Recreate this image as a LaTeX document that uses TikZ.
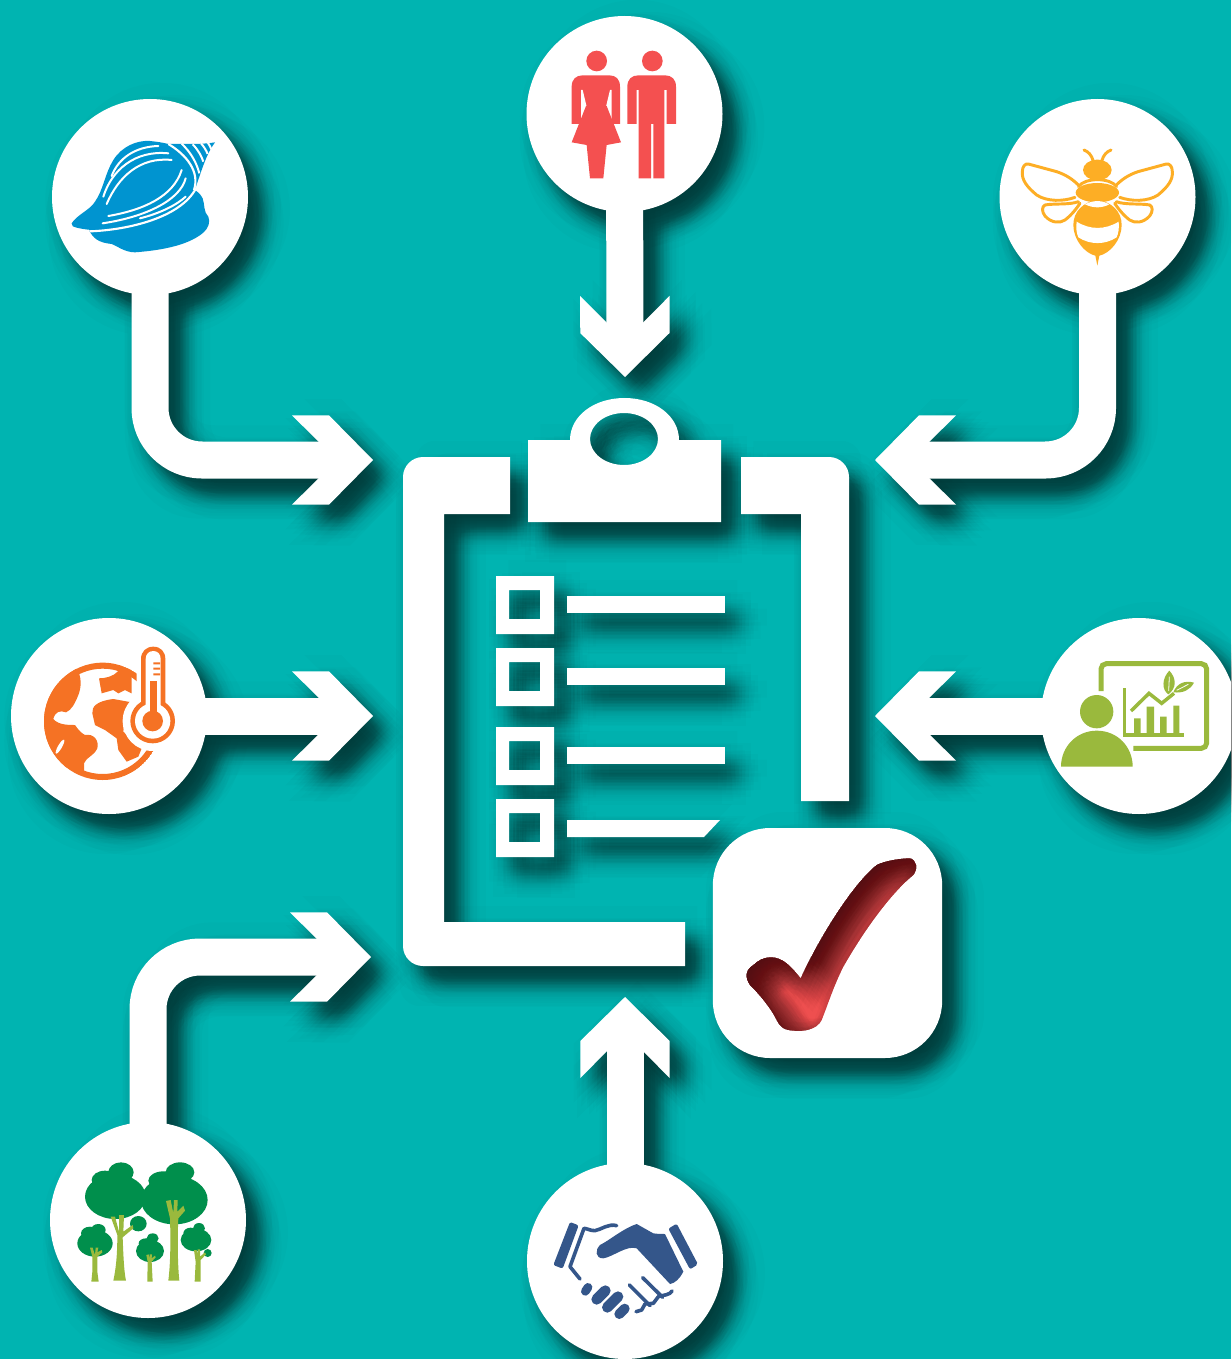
\documentclass[tikz,border=0pt]{standalone}
\usetikzlibrary{arrows.meta}
\definecolor{bgteal}{HTML}{00B4B1}
\definecolor{shellblue}{HTML}{0094D0}
\definecolor{peoplered}{HTML}{F45050}
\definecolor{beeamber}{HTML}{FDAE25}
\definecolor{globeorange}{HTML}{F57224}
\definecolor{leafgreen}{HTML}{9AB93D}
\definecolor{treegreen}{HTML}{008F4C}
\definecolor{handblue}{HTML}{34568A}
\definecolor{checkred}{HTML}{EE4F4F}
\definecolor{checkdark}{HTML}{3A0E12}
\colorlet{layercol}{white}
\pgfdeclarearrow{
  name=Chev,
  cache=false,
  setup code={
    \pgfarrowssettipend{0pt}
    \pgfarrowssetbackend{-60.75pt}
    \pgfarrowssetvisualbackend{-24pt}
    \pgfarrowssetlineend{-24pt}
    \pgfarrowshullpoint{0pt}{0pt}
    \pgfarrowshullpoint{-33pt}{33.5pt}
    \pgfarrowshullpoint{-60.75pt}{33.5pt}
    \pgfarrowshullpoint{-60.75pt}{-33.5pt}
    \pgfarrowshullpoint{-33pt}{-33.5pt}
  },
  drawing code={
    \pgfpathmoveto{\pgfqpoint{0pt}{0pt}}
    \pgfpathlineto{\pgfpoint{-33pt}{33.5pt}}
    \pgfpathlineto{\pgfpoint{-60.75pt}{33.5pt}}
    \pgfpathlineto{\pgfpoint{-27pt}{0pt}}
    \pgfpathlineto{\pgfpoint{-60.75pt}{-33.5pt}}
    \pgfpathlineto{\pgfpoint{-33pt}{-33.5pt}}
    \pgfpathclose
    \pgfusepathqfill
  }
}
\tikzset{
  disc/.style={circle,fill=layercol,inner sep=0pt,minimum size=147pt},
  conn/.style={draw=layercol,line width=27.75pt,-Chev,rounded corners=39pt},
  okbox/.style={rectangle,fill=layercol,inner sep=0pt,minimum width=172pt,minimum height=172.5pt,rounded corners=43pt},
  zA/.style={shift={(40,90)},scale=0.33333},
  zB/.style={shift={(520,10)},scale=0.33333},
  zC/.style={shift={(990,90)},scale=0.33333},
  zD/.style={shift={(10,615)},scale=0.33333},
  zE/.style={shift={(1030,615)},scale=0.33333},
  zF/.style={shift={(40,1115)},scale=0.33333},
  zG/.style={shift={(520,1160)},scale=0.33333},
  zH/.style={shift={(700,810)},scale=0.33333},
  shellline/.style={draw=white,line width=1.5pt,line cap=round},
  beeline/.style={draw=beeamber,line width=2.2pt,line cap=round,line join=round},
  handline/.style={draw=handblue,line width=2.7pt,line cap=round,line join=round},
  finger/.style={draw=handblue,line width=8pt,line cap=round},
}
\newcommand{\rowbox}[2]{%
  \fill[layercol,even odd rule] (496,#1) rectangle (554,#1+58) (509,#1+14) rectangle (540,#1+43);
  \fill[layercol] (567,#2) rectangle (725,#2+17);
}
\newcommand{\whitelayer}{%
  \node (shell) [disc] at (150,197) {};
  \node (people) [disc] at (624.5,114) {};
  \node (bee) [disc] at (1097.5,197) {};
  \node (globe) [disc] at (109,716) {};
  \node (pres) [disc] at (1139,716) {};
  \node (trees) [disc] at (148,1220) {};
  \node (hands) [disc] at (625,1261) {};
  \coordinate (tipA) at (373,460);
  \coordinate (tipB) at (625,377);
  \coordinate (tipC) at (875,460);
  \coordinate (tipD) at (373,716);
  \coordinate (tipE) at (875,716);
  \coordinate (tipF) at (371,957);
  \coordinate (tipG) at (625,997);
  \draw[conn] (shell.center) |- (tipA);
  \draw[conn] (people.center) -- (tipB);
  \draw[conn] (bee.center) |- (tipC);
  \draw[conn] (globe.center) -- (tipD);
  \draw[conn] (pres.center) -- (tipE);
  \draw[conn] (trees.center) |- (tipF);
  \draw[conn] (hands.center) -- (tipG);
  % clipboard frame
  \fill[layercol] (510,457) -- (423,457) .. controls (412,457) and (403,466) .. (403,477)
     -- (403,946) .. controls (403,957) and (412,966) .. (423,966)
     -- (685,966) -- (685,922) -- (444,922) -- (444,514) -- (510,514) -- cycle;
  \fill[layercol] (741,457) -- (829,457) .. controls (840,457) and (849,466) .. (849,477)
     -- (849,801) -- (801,801) -- (801,514) -- (741,514) -- cycle;
  % clip
  \fill[layercol,even odd rule] (528,440) -- (570,440) .. controls (570,416) and (594,398) .. (624.5,398)
     .. controls (655,398) and (679,416) .. (679,440) -- (721,440) -- (721,522) -- (528,522) -- cycle
     (624,439) ellipse [x radius=34,y radius=26];
  % list
  \rowbox{576}{596}
  \rowbox{648}{668}
  \rowbox{727}{747}
  \fill[layercol,even odd rule] (496,799) rectangle (554,857) (509,813) rectangle (540,842);
  \fill[layercol] (567,820) -- (720,820) -- (704,837) -- (567,837) -- cycle;
  \node (okay) [okbox] at (827.5,943) {};
}
\newcommand{\checkpath}{(530,165) .. controls (560,150) and (610,145) .. (630,145)
  .. controls (650,150) and (655,175) .. (640,195)
  .. controls (590,235) and (510,330) .. (430,470)
  .. controls (400,530) and (385,580) .. (365,630)
  .. controls (350,660) and (310,665) .. (280,662)
  .. controls (250,660) and (240,650) .. (230,630)
  .. controls (210,590) and (175,550) .. (150,525)
  .. controls (135,505) and (135,480) .. (160,465)
  .. controls (190,435) and (230,435) .. (260,460)
  .. controls (275,472) and (290,490) .. (302,505)
  .. controls (350,400) and (450,230) .. (530,165) -- cycle}
\begin{document}
\begin{tikzpicture}[x=0.75pt,y=-0.75pt]
\useasboundingbox (0,0) rectangle (1231,1359);
\fill[bgteal] (0,0) rectangle (1231,1359);
\clip (0,0) rectangle (1231,1359);
% soft drop shadow: many faint offset copies of the layer, in black, gaussian spread
\colorlet{layercol}{black}
\foreach \i in {1,...,70}{
  \pgfmathsetmacro\sr{15*sqrt(-ln(1-(\i-0.5)/70))}
  \pgfmathsetmacro\sa{\i*137.508}
  \begin{scope}[shift={(15,17)},shift={(\sa:\sr)},transparency group,opacity=0.0125]
    \whitelayer
  \end{scope}
}
\colorlet{layercol}{white}
\whitelayer

% check mark with inner shadow
\begin{scope}[zH]
  \clip \checkpath;
  \fill[checkred] (100,100) rectangle (700,700);
  \foreach \i in {1,...,80}{
    \pgfmathsetmacro\sr{72*sqrt(\i/80)}
    \pgfmathsetmacro\sa{\i*137.508}
    \begin{scope}[shift={(42,32)},shift={(\sa:\sr)}]
      \fill[checkdark,opacity=0.02,even odd rule] (-500,-500) rectangle (1300,1300) \checkpath;
    \end{scope}
  }
\end{scope}

% shell
\begin{scope}[zA]
  \fill[shellblue] (148,422) .. controls (160,445) and (175,458) .. (215,462)
    .. controls (235,470) and (255,487) .. (285,487)
    .. controls (350,482) and (440,470) .. (490,428)
    .. controls (505,415) and (512,395) .. (505,380)
    .. controls (490,365) and (495,345) .. (488,325)
    .. controls (480,310) and (472,305) .. (465,300) -- (350,390) -- cycle;
  \fill[shellblue] (95,400) .. controls (110,375) and (150,360) .. (165,335)
    .. controls (190,300) and (195,250) .. (220,210)
    .. controls (245,170) and (290,150) .. (330,153)
    .. controls (350,155) and (370,158) .. (385,162)
    .. controls (430,160) and (480,165) .. (525,157)
    .. controls (500,190) and (485,240) .. (468,290)
    .. controls (445,350) and (380,395) .. (300,410)
    .. controls (230,425) and (160,425) .. (110,413)
    .. controls (100,410) and (93,408) .. (95,400) -- cycle;
  \draw[white,line width=1.6pt] (150,424) .. controls (260,420) and (420,385) .. (468,295);
  \draw[white,line width=1.6pt] (385,162) .. controls (440,195) and (480,245) .. (462,300);
  \draw[shellline] (215,258) .. controls (235,205) and (285,170) .. (355,168);
  \draw[shellline] (190,320) .. controls (215,240) and (285,180) .. (385,190);
  \draw[shellline] (200,342) .. controls (235,260) and (300,200) .. (395,210);
  \draw[shellline] (205,378) .. controls (310,360) and (400,320) .. (425,240);
  \draw[shellline] (188,400) .. controls (320,380) and (420,330) .. (437,265);
  \draw[shellline] (300,385) .. controls (360,370) and (410,345) .. (437,320);
  \draw[white,line width=1.5pt] (425,161) .. controls (455,190) and (470,220) .. (478,250);
  \draw[white,line width=1.5pt] (458,163) .. controls (475,180) and (485,200) .. (490,215);
  \draw[white,line width=1.5pt] (483,160) .. controls (492,170) and (498,180) .. (503,192);
  \draw[white,line width=1.5pt] (503,157) .. controls (508,165) and (512,172) .. (514,178);
\end{scope}

% people
\begin{scope}[zB]
  \fill[peoplered] (230,153) circle [radius=31];
  \fill[peoplered] (155,342) -- (155,230) .. controls (155,208) and (168,196) .. (188,196)
    -- (268,196) .. controls (288,196) and (300,208) .. (300,230) -- (300,342) -- cycle;
  \fill[white] (183,240) -- (188,240) -- (200,290) -- (183,335) -- (183,345) -- (275,345) -- (275,335) -- (258,290) -- (270,240) -- (275,240) -- (275,342) -- (183,342) -- cycle;
  \fill[peoplered] (198,288) -- (260,288) -- (303,397) -- (260,405) -- (250,505) -- (210,505) -- (200,405) -- (155,397) -- cycle;
  \fill[peoplered] (397,153) circle [radius=31];
  \fill[peoplered] (322,342) -- (322,230) .. controls (322,208) and (335,196) .. (355,196)
    -- (435,196) .. controls (455,196) and (468,208) .. (468,230) -- (468,342) -- (440,342)
    -- (440,240) -- (433,240) -- (433,505) -- (400,505) -- (400,342) -- (393,342)
    -- (393,505) -- (356,505) -- (356,240) -- (350,240) -- (350,342) -- cycle;
\end{scope}

% bee
\begin{scope}[zC]
  \fill[beeamber] (322,240) ellipse [x radius=43,y radius=31];
  \draw[beeline] (310,214) .. controls (305,195) and (295,185) .. (282,180);
  \draw[beeline] (335,214) .. controls (340,195) and (350,185) .. (363,180);
  \draw[beeline] (265,290) .. controls (285,262) and (360,262) .. (380,290);
  \fill[beeamber] (322,308) ellipse [x radius=65,y radius=29];
  \fill[beeamber] (322,330) .. controls (365,335) and (395,365) .. (395,405)
    .. controls (395,450) and (360,490) .. (328,497) -- (322,527) -- (316,497)
    .. controls (285,490) and (250,450) .. (250,405)
    .. controls (250,365) and (280,335) .. (322,330) -- cycle;
  \fill[white] (285,343) .. controls (310,330) and (335,330) .. (358,343)
    .. controls (335,355) and (310,355) .. (285,343) -- cycle;
  \fill[white] (260,395) .. controls (300,420) and (345,420) .. (386,395)
    .. controls (388,415) and (385,430) .. (380,442)
    .. controls (345,465) and (300,465) .. (265,442)
    .. controls (260,430) and (257,415) .. (260,395) -- cycle;
  \foreach \mir/\off in {1/0,-1/644}{
  \begin{scope}[shift={(\off,0)},xscale=\mir]
    \draw[beeline] (115,222) -- (200,245) .. controls (230,255) and (250,270) .. (265,285)
      (255,322) .. controls (220,335) and (170,335) .. (140,315)
      .. controls (110,290) and (95,270) .. (97,245)
      .. controls (97,230) and (105,220) .. (115,222);
    \draw[beeline] (265,335) .. controls (240,345) and (190,340) .. (165,345)
      .. controls (155,350) and (155,365) .. (165,378)
      .. controls (185,400) and (210,400) .. (225,390)
      .. controls (245,375) and (260,355) .. (270,340);
  \end{scope}}
\end{scope}

% globe and thermometer
\begin{scope}[zD]
  \begin{scope}
    \clip (278,319) circle [radius=176];
    \fill[globeorange,even odd rule] (278,319) circle [radius=176] (278,319) circle [radius=158];
    \fill[globeorange] (200,160) .. controls (215,185) and (215,215) .. (205,240)
      .. controls (195,265) and (185,285) .. (168,292)
      .. controls (150,285) and (135,290) .. (130,312)
      .. controls (145,330) and (175,330) .. (195,330)
      .. controls (205,345) and (215,355) .. (225,360)
      .. controls (250,355) and (268,375) .. (262,400)
      .. controls (250,425) and (230,425) .. (222,445)
      -- (222,475) -- (60,420) -- (60,200) -- cycle;
    \fill[white,rotate around={-30:(150,395)}] (150,395) ellipse [x radius=6,y radius=24];
    \fill[globeorange] (267,190) .. controls (285,190) and (310,185) .. (325,168)
      -- (365,170) -- (365,235) -- (345,225) -- (325,235) -- (310,225) -- (275,235) -- cycle;
    \fill[globeorange] (247,295) .. controls (245,275) and (260,258) .. (310,252)
      -- (365,262) -- (345,300) -- (340,350) -- (372,378) -- (395,400) -- (385,425)
      -- (350,440) -- (325,405) -- (320,370) -- (285,345) -- (255,330) -- cycle;
  \end{scope}
  \fill[white] (428,318) circle [radius=90];
  \fill[white] (380,130) .. controls (380,100) and (400,85) .. (430,85)
    .. controls (460,85) and (480,100) .. (480,130) -- (480,280) -- (380,280) -- cycle;
  \fill[globeorange] (428,318) circle [radius=67];
  \fill[globeorange] (393,300) -- (393,132) .. controls (393,110) and (408,95) .. (430,95)
    .. controls (452,95) and (466,110) .. (466,132) -- (466,300) -- cycle;
  \fill[white] (428,318) circle [radius=53];
  \fill[white] (407,300) -- (407,132) .. controls (407,118) and (416,108) .. (430,108)
    .. controls (444,108) and (452,118) .. (452,132) -- (452,300) -- cycle;
  \fill[globeorange] (428,318) circle [radius=31];
  \fill[globeorange] (420,310) -- (420,198) -- (440,198) -- (440,310) -- cycle;
  \fill[globeorange] (430,142) rectangle (450,148) (430,158) rectangle (450,164) (430,175) rectangle (450,181);
\end{scope}

% presentation
\begin{scope}[zE]
  \draw[leafgreen,line width=3.75pt,rounded corners=4pt] (213,228) -- (213,146) -- (530,146) -- (530,400) -- (310,400);
  \fill[leafgreen] (200,290) circle [radius=50];
  \fill[leafgreen] (93,455) .. controls (93,395) and (140,347) .. (200,347)
    .. controls (262,347) and (308,395) .. (308,455) -- cycle;
  \draw[leafgreen,line width=2.3pt] (283,220) -- (283,360) -- (462,360);
  \fill[leafgreen] (312,310) rectangle (332,358) (350,275) rectangle (372,358) (390,305) rectangle (410,358) (430,272) rectangle (448,358);
  \draw[leafgreen,line width=2.6pt] (303,288) -- (357,235) -- (395,265) -- (432,235);
  \fill[leafgreen] (418,167) .. controls (395,190) and (395,225) .. (415,238)
    .. controls (440,220) and (440,190) .. (418,167) -- cycle;
  \fill[leafgreen] (492,203) .. controls (465,195) and (440,205) .. (430,232)
    .. controls (460,235) and (480,225) .. (492,203) -- cycle;
  \draw[white,line width=0.6pt] (418,185) -- (416,228);
  \draw[white,line width=0.6pt] (475,208) -- (440,226);
\end{scope}

% trees
\begin{scope}[zF]
  \fill[treegreen] (243,172) ellipse [x radius=38,y radius=30]
    (195,195) ellipse [x radius=40,y radius=28]
    (226,245) ellipse [x radius=91,y radius=67]
    (295,326) ellipse [x radius=25,y radius=23];
  \fill[treegreen] (420,172) ellipse [x radius=43,y radius=30]
    (370,197) ellipse [x radius=45,y radius=28]
    (403,255) ellipse [x radius=100,y radius=73];
  \fill[treegreen] (175,345) ellipse [x radius=22,y radius=18]
    (150,355) ellipse [x radius=27,y radius=20]
    (165,385) ellipse [x radius=53,y radius=40];
  \fill[treegreen] (338,370) ellipse [x radius=18,y radius=15]
    (318,385) ellipse [x radius=22,y radius=15]
    (330,408) ellipse [x radius=42,y radius=33];
  \fill[treegreen] (477,340) ellipse [x radius=18,y radius=16]
    (452,355) ellipse [x radius=22,y radius=17]
    (468,375) ellipse [x radius=46,y radius=34]
    (503,414) circle [radius=12];
  \fill[leafgreen] (212,305) -- (225,305) -- (237,350) -- (237,300) -- (252,300) -- (250,350)
    -- (278,330) -- (280,340) -- (248,367) .. controls (250,420) and (252,470) .. (258,497)
    -- (220,497) .. controls (228,460) and (232,420) .. (232,360) -- cycle;
  \fill[leafgreen] (378,258) -- (392,255) -- (400,295) -- (402,255) -- (413,255) -- (412,290)
    -- (430,272) -- (435,287) -- (415,310) .. controls (412,370) and (413,450) .. (418,497)
    -- (385,497) .. controls (392,440) and (392,370) .. (390,310) -- cycle;
  \fill[leafgreen] (150,398) -- (158,398) -- (165,420) -- (167,398) -- (175,398) -- (172,412)
    -- (185,405) -- (187,412) -- (172,425) -- (172,470) -- (176,500) -- (154,500) -- (157,470) -- (157,425) -- cycle;
  \fill[leafgreen] (319,420) -- (326,418) -- (329,433) -- (329,418) -- (336,418) -- (335,430)
    -- (345,422) -- (347,427) -- (335,440) -- (338,500) -- (322,500) -- (323,440) -- cycle;
  \fill[leafgreen] (462,405) -- (470,405) -- (472,420) -- (473,403) -- (480,403) -- (480,425)
    -- (495,412) -- (498,418) -- (482,435) -- (482,500) -- (464,500) -- (467,440) -- cycle;
\end{scope}

% handshake
\begin{scope}[zG]
  \fill[handblue,rounded corners=1.5pt] (150,186) -- (176,196) -- (128,326) -- (100,315) -- cycle;
  \fill[handblue,rounded corners=1.5pt] (470,191) -- (445,206) -- (510,328) -- (534,313) -- cycle;
  \draw[handline] (290,197) .. controls (265,190) and (245,208) .. (225,212)
    .. controls (210,212) and (200,205) .. (192,205) -- (150,320) -- (180,357);
  \fill[handblue] (350,192) .. controls (365,200) and (385,212) .. (400,220)
    .. controls (415,222) and (425,222) .. (435,222) -- (490,335)
    .. controls (480,355) and (465,370) .. (450,372) -- (350,265)
    .. controls (320,255) and (280,290) .. (250,295)
    .. controls (225,295) and (225,270) .. (240,255)
    .. controls (270,240) and (310,205) .. (350,192) -- cycle;
  \draw[finger,line width=6.5pt] (196,394) -- (204,382);
  \draw[finger] (230,418) -- (256,392);
  \draw[finger] (262,442) -- (294,410);
  \draw[finger,line width=7.5pt] (298,462) -- (314,446);
  \draw[handline] (328,375) -- (390,437);
  \draw[handline] (368,353) -- (428,412);
  \draw[handline] (456,393) .. controls (450,405) and (430,405) .. (415,410)
    -- (400,430) -- (375,432) -- (365,450) -- (348,455);
\end{scope}
\end{tikzpicture}
\end{document}
